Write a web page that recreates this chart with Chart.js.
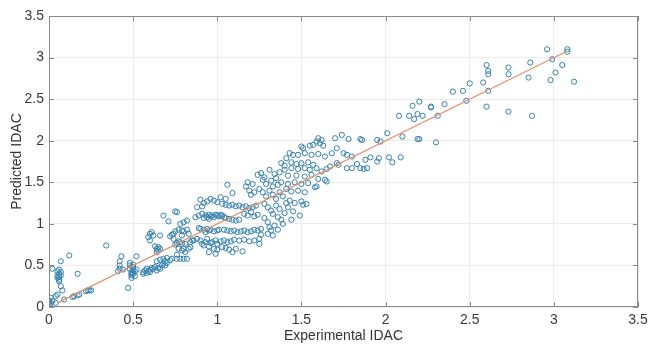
<!DOCTYPE html>
<html lang="en">
<head>
  <meta charset="UTF-8" />
  <title>Predicted vs Experimental IDAC</title>
  <script src="https://cdn.jsdelivr.net/npm/chart.js"></script>
  <style>
    body {
      margin: 0;
      background: #fff;
    }
    #wrap {
      width: 649px;
      height: 345px;
      position: relative;
    }
  </style>
</head>
<body>
  <div id="wrap"><canvas id="idacChart"></canvas></div>

  <script>
    // experimental vs predicted IDAC, grouped roughly by region of the plot
    const experimental = [
      // near the origin
      0.00, 0.00, 0.00, 0.01, 0.01, 0.02, 0.02, 0.04, 0.04, 0.05, 0.05, 0.05, 0.05, 0.06, 0.06, 0.06, 0.07, 0.06,
      0.06, 0.07, 0.07, 0.07, 0.08, 0.12, 0.17, 0.09, 0.14, 0.15, 0.17, 0.18, 0.22, 0.23, 0.24, 0.25, 0.34,
      // 0.4 - 0.55
      0.41, 0.42, 0.42, 0.42, 0.43, 0.44, 0.47, 0.48, 0.48, 0.49, 0.49, 0.49, 0.50, 0.50, 0.50, 0.51, 0.52, 0.52,
      0.48, 0.50, 0.49, 0.51,
      // 0.55 - 0.75 lower band
      0.56, 0.57, 0.58, 0.58, 0.59, 0.60, 0.61, 0.62, 0.63, 0.64, 0.65, 0.66, 0.67, 0.68, 0.69, 0.70, 0.72, 0.73,
      0.64, 0.66, 0.68, 0.70, 0.69, 0.56, 0.60,
      // 0.58 - 0.7 upper band
      0.59, 0.60, 0.61, 0.60, 0.62, 0.63, 0.64, 0.65, 0.64, 0.66, 0.68, 0.65, 0.66,
      // 0.7 - 0.88
      0.71, 0.72, 0.73, 0.74, 0.75, 0.75, 0.76, 0.74, 0.75, 0.76, 0.77, 0.78, 0.79, 0.80, 0.79, 0.81, 0.80, 0.78,
      0.82, 0.76, 0.77, 0.79, 0.80, 0.82, 0.80, 0.82, 0.78, 0.83, 0.85, 0.84, 0.86, 0.88, 0.83, 0.84, 0.77, 0.76,
      0.81, 0.79,
      // 0.87 - 1.05
      0.90, 0.92, 0.94, 0.96, 0.98, 1.00, 0.91, 0.88,
      0.87, 0.89, 0.91, 0.93, 0.94, 0.95, 0.96, 0.97, 0.98, 0.99, 1.00, 1.01, 1.02, 1.03, 1.04, 0.92, 0.95,
      0.89, 0.90, 0.92, 0.94, 0.95, 0.96, 0.98, 1.00, 1.01, 0.93,
      0.90, 0.91, 0.92, 0.93, 0.95, 0.96, 0.97, 0.99, 1.00, 1.02, 0.94, 0.98,
      0.95, 1.00, 1.03, 0.99,
      // 1.02 - 1.3
      1.03, 1.05, 1.07, 1.09, 1.11, 1.13, 1.15, 1.17, 1.19, 1.21, 1.23,
      1.05, 1.07, 1.09, 1.11, 1.13, 1.16, 1.18, 1.20, 1.22, 1.24,
      1.04, 1.06, 1.08, 1.10, 1.12, 1.14, 1.16, 1.18, 1.20, 1.22, 1.24, 1.26,
      1.04, 1.06, 1.08, 1.10, 1.13, 1.16, 1.19, 1.22, 1.25, 1.25, 1.26,
      1.05, 1.07, 1.11, 1.15, 1.09,
      1.06, 1.09, 1.02, 1.05,
      // 1.15 - 1.42
      1.17, 1.18, 1.19, 1.20, 1.21, 1.22, 1.24, 1.26, 1.25, 1.27, 1.28, 1.29, 1.31, 1.32, 1.33, 1.34, 1.35, 1.36,
      1.37, 1.38,
      1.27, 1.29, 1.31, 1.33, 1.35, 1.37, 1.39,
      1.28, 1.30, 1.32, 1.33, 1.35, 1.36, 1.37, 1.38, 1.40, 1.41,
      1.28, 1.30, 1.31, 1.32, 1.34, 1.36, 1.39, 1.33, 1.30,
      // 1.38 - 1.65
      1.41, 1.43, 1.45, 1.48, 1.50, 1.51, 1.52, 1.55, 1.57, 1.56, 1.59, 1.60, 1.62, 1.61, 1.63, 1.60,
      1.38, 1.40, 1.44, 1.47, 1.50, 1.54, 1.57,
      1.40, 1.44, 1.48, 1.52, 1.55, 1.59, 1.62, 1.65,
      1.42, 1.47, 1.52, 1.56, 1.60,
      1.42, 1.46, 1.50, 1.54, 1.58,
      1.41, 1.44, 1.48, 1.52, 1.59, 1.65,
      1.43, 1.46, 1.50, 1.53, 1.51, 1.45, 1.49, 1.44, 1.42,
      // 1.64 - 2.1
      1.70, 1.74, 1.78, 1.85, 1.86,
      1.71, 1.75, 1.77, 1.80, 1.68, 1.64, 1.71, 1.72, 1.77, 1.80, 1.88, 1.89, 1.64, 1.67, 1.85, 1.83,
      1.91, 1.95, 1.96, 2.02, 2.04, 2.09, 1.87, 1.95, 1.97, 2.01,
      // 2.05 - 2.5
      2.10, 2.19, 2.20, 2.30, 2.08, 2.14, 2.16, 2.20, 2.17, 2.19, 2.22, 2.27, 2.27, 2.31, 2.35, 2.40, 2.46, 2.48,
      // 2.5 - 3.12
      2.50, 2.58, 2.60, 2.61, 2.61, 2.61, 2.60, 2.73, 2.73, 2.73, 2.85, 2.86, 2.87, 2.96, 2.98, 2.99, 3.01, 3.05,
      3.08, 3.08, 3.12
    ];

    const predicted = [
      0.02, 0.05, 0.08, 0.11, 0.04, 0.07, 0.46, 0.05, 0.13, 0.15, 0.38, 0.43, 0.35, 0.40, 0.36, 0.33, 0.38, 0.45,
      0.31, 0.42, 0.55, 0.25, 0.20, 0.62, 0.40, 0.09, 0.12, 0.13, 0.14, 0.15, 0.19, 0.20, 0.20, 0.20, 0.74,
      0.43, 0.46, 0.50, 0.55, 0.61, 0.45, 0.23, 0.50, 0.46, 0.42, 0.38, 0.35, 0.48, 0.44, 0.40, 0.37, 0.45, 0.61,
      0.53, 0.51, 0.40, 0.43,
      0.42, 0.44, 0.46, 0.41, 0.43, 0.45, 0.47, 0.46, 0.48, 0.44, 0.47, 0.46, 0.50, 0.52, 0.55, 0.53, 0.56, 0.58,
      0.55, 0.57, 0.58, 0.59, 0.50, 0.40, 0.42,
      0.84, 0.88, 0.90, 0.80, 0.86, 0.73, 0.70, 0.68, 0.66, 0.86, 1.10, 0.72, 0.70,
      1.03, 0.85, 0.87, 0.88, 0.91, 1.15, 1.14, 0.82, 0.75, 0.77, 0.79, 0.78, 0.76, 0.70, 0.68, 0.66, 0.58, 0.58,
      0.58, 0.58, 0.93, 0.92, 0.91, 0.93, 1.02, 1.04, 1.00, 0.88, 0.80, 0.78, 0.80, 0.82, 0.70, 0.72, 0.70, 0.63,
      0.76, 0.86,
      1.29, 1.25, 1.27, 1.30, 1.28, 1.26, 1.21, 1.20,
      1.08, 1.10, 1.12, 1.10, 1.08, 1.11, 1.09, 1.10, 1.08, 1.11, 1.10, 1.09, 1.11, 1.10, 1.08, 1.07, 1.06,
      0.95, 0.94, 0.93, 0.94, 0.92, 0.93, 0.91, 0.92, 0.93, 0.90,
      0.80, 0.76, 0.74, 0.78, 0.73, 0.77, 0.78, 0.80, 0.76, 0.79, 0.82, 0.70,
      0.66, 0.69, 0.72, 0.64,
      1.24, 1.23, 1.22, 1.23, 1.21, 1.22, 1.20, 1.21, 1.19, 1.20, 1.22,
      1.07, 1.06, 1.05, 1.04, 1.05, 1.12, 1.10, 1.14, 1.09, 1.11,
      0.93, 0.92, 0.91, 0.92, 0.90, 0.91, 0.92, 0.90, 0.91, 0.93, 0.92, 0.94,
      0.80, 0.78, 0.79, 0.81, 0.80, 0.81, 0.79, 0.80, 0.82, 0.76, 0.87,
      0.71, 0.69, 0.70, 0.67, 0.66,
      1.47, 1.37, 1.32, 1.30,
      1.45, 1.50, 1.40, 1.35, 1.48, 1.38, 1.59, 1.61, 1.42, 1.53, 1.56, 1.48, 1.65, 1.52, 1.45, 1.60, 1.55, 1.47,
      1.62, 1.50,
      1.38, 1.33, 1.40, 1.35, 1.30, 1.38, 1.33,
      1.24, 1.20, 1.16, 1.12, 1.22, 1.08, 1.18, 1.05, 1.13, 1.25,
      1.07, 1.02, 0.96, 0.92, 0.98, 0.93, 1.00, 0.86, 0.88,
      1.79, 1.85, 1.83, 1.83, 1.93, 1.91, 1.85, 1.94, 1.95, 1.83, 1.99, 2.03, 2.01, 1.97, 1.94, 1.84,
      1.73, 1.70, 1.74, 1.72, 1.73, 1.74, 1.71,
      1.65, 1.67, 1.66, 1.67, 1.65, 1.67, 1.63, 1.66,
      1.58, 1.58, 1.57, 1.59, 1.54,
      1.48, 1.50, 1.48, 1.49, 1.44,
      1.42, 1.39, 1.40, 1.38, 1.45, 1.51,
      1.28, 1.25, 1.27, 1.24, 1.23, 1.15, 1.10, 1.05, 1.20,
      2.03, 2.07, 2.02, 2.02, 2.01,
      1.91, 1.85, 1.83, 1.81, 1.85, 1.81, 1.73, 1.71, 1.67, 1.67, 1.77, 1.67, 1.53, 1.69, 1.67, 1.72,
      1.80, 1.75, 1.79, 1.80, 1.74, 1.80, 1.66, 2.01, 1.99, 2.09,
      2.05, 2.02, 2.02, 1.98, 2.30, 2.30, 2.42, 2.47, 2.26, 2.32, 2.30, 2.40, 2.41, 2.30, 2.44, 2.59, 2.60, 2.48,
      2.69, 2.70, 2.91, 2.84, 2.80, 2.60, 2.41, 2.88, 2.80, 2.35, 2.76, 2.94, 2.30, 3.10, 2.73, 2.98, 2.82, 2.91,
      3.10, 3.07, 2.71
    ];

    // least-squares fit line end points
    const fitX = [0.05, 3.08];
    const fitY = [0.05, 3.08];

    const tickValues = [0, 0.5, 1, 1.5, 2, 2.5, 3, 3.5];

    const points = experimental.map((x, i) => ({ x: x, y: predicted[i] }));
    const fitLine = fitX.map((x, i) => ({ x: x, y: fitY[i] }));

    // MATLAB style box with inward ticks on all four sides
    const boxPlugin = {
      id: 'boxTicks',
      afterDraw(chart) {
        const { ctx, chartArea: a, scales } = chart;
        ctx.save();
        ctx.strokeStyle = '#8a8a8a';
        ctx.lineWidth = 1;
        ctx.strokeRect(a.left + 0.5, a.top + 0.5, a.right - a.left - 1, a.bottom - a.top - 1);
        ctx.beginPath();
        tickValues.forEach(v => {
          const px = Math.round(scales.x.getPixelForValue(v)) + 0.5;
          const py = Math.round(scales.y.getPixelForValue(v)) + 0.5;
          ctx.moveTo(px, a.bottom); ctx.lineTo(px, a.bottom - 5);
          ctx.moveTo(px, a.top); ctx.lineTo(px, a.top + 5);
          ctx.moveTo(a.left, py); ctx.lineTo(a.left + 5, py);
          ctx.moveTo(a.right, py); ctx.lineTo(a.right - 5, py);
        });
        ctx.stroke();
        ctx.restore();
      }
    };

    const axisFont = { family: 'Liberation Sans, Arial, sans-serif', size: 14 };

    new Chart(document.getElementById('idacChart'), {
      type: 'scatter',
      data: {
        datasets: [
          {
            type: 'line',
            data: fitLine,
            borderColor: '#e2916b',
            borderWidth: 1.2,
            pointRadius: 0,
            fill: false,
            order: 0
          },
          {
            data: points,
            pointStyle: 'circle',
            pointRadius: 2.6,
            pointBorderWidth: 1,
            pointBorderColor: '#3580ad',
            pointBackgroundColor: 'rgba(0,0,0,0)',
            order: 1
          }
        ]
      },
      options: {
        responsive: true,
        maintainAspectRatio: false,
        animation: false,
        layout: { padding: { top: 16, right: 11, left: 0, bottom: 0 } },
        plugins: {
          legend: { display: false },
          tooltip: { enabled: false }
        },
        scales: {
          x: {
            type: 'linear',
            min: 0,
            max: 3.5,
            afterFit: s => { s.height = 38; s.paddingRight = 0; s.paddingLeft = 0; },
            afterBuildTicks: s => { s.ticks = tickValues.map(v => ({ value: v })); },
            ticks: {
              font: axisFont,
              color: '#3a3a3a',
              padding: 5,
              maxRotation: 0,
              callback: v => String(v)
            },
            grid: { color: '#ececec', drawTicks: false },
            border: { display: false },
            title: {
              display: true,
              text: 'Experimental IDAC',
              font: axisFont,
              color: '#333',
              padding: { top: 0, bottom: 0 }
            }
          },
          y: {
            type: 'linear',
            min: 0,
            max: 3.5,
            afterFit: s => { s.width = 49; s.paddingTop = 0; s.paddingBottom = 0; },
            afterBuildTicks: s => { s.ticks = tickValues.map(v => ({ value: v })); },
            ticks: {
              font: axisFont,
              color: '#3a3a3a',
              padding: 5,
              callback: v => String(v)
            },
            grid: { color: '#ececec', drawTicks: false },
            border: { display: false },
            title: {
              display: true,
              text: 'Predicted IDAC',
              font: axisFont,
              color: '#333',
              padding: { top: 9, bottom: 0 }
            }
          }
        }
      },
      plugins: [boxPlugin]
    });
  </script>
</body>
</html>
